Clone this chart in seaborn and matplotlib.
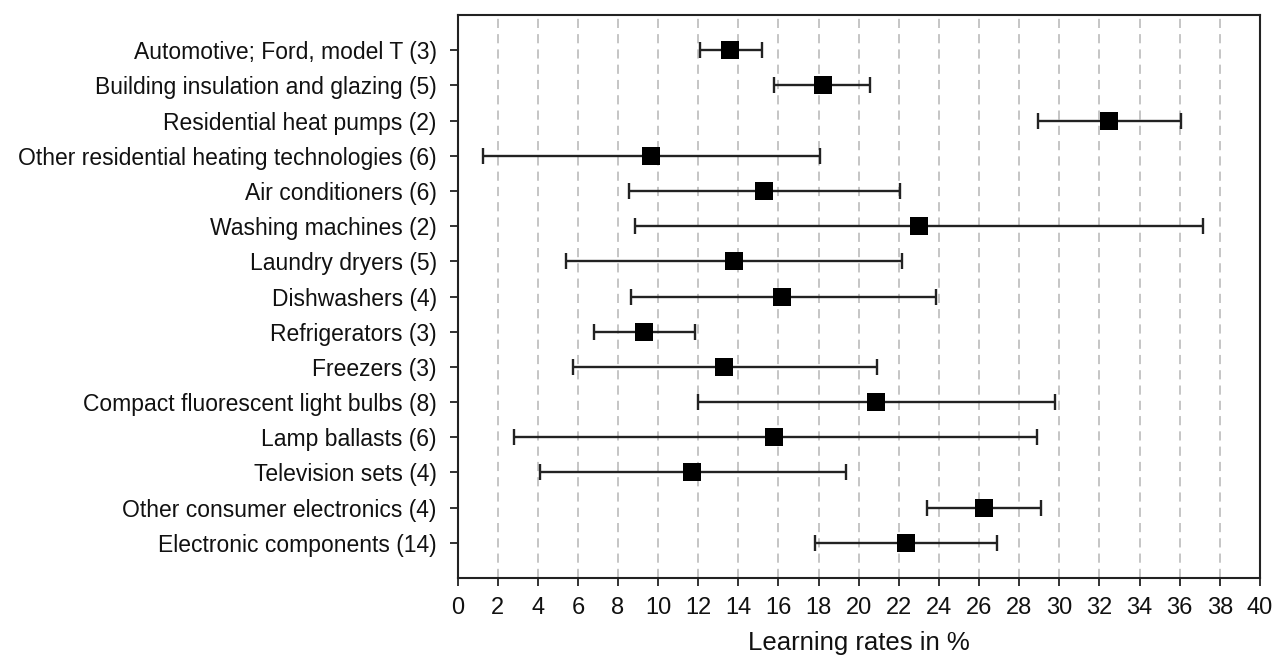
import matplotlib
matplotlib.use("Agg")
import matplotlib.pyplot as plt
import seaborn as sns
import pandas as pd

categories = [
    "Automotive; Ford, model T (3)",
    "Building insulation and glazing (5)",
    "Residential heat pumps (2)",
    "Other residential heating technologies (6)",
    "Air conditioners (6)",
    "Washing machines (2)",
    "Laundry dryers (5)",
    "Dishwashers (4)",
    "Refrigerators (3)",
    "Freezers (3)",
    "Compact fluorescent light bulbs (8)",
    "Lamp ballasts (6)",
    "Television sets (4)",
    "Other consumer electronics (4)",
    "Electronic components (14)",
]
mean_rate = [13.6, 18.2, 32.5, 9.65, 15.3, 23.0, 13.8, 16.2, 9.3, 13.3, 20.85, 15.8, 11.7, 26.25, 22.35]
low_rate = [12.1, 15.8, 28.95, 1.25, 8.55, 8.85, 5.4, 8.65, 6.8, 5.75, 12.0, 2.8, 4.1, 23.4, 17.8]
high_rate = [15.2, 20.55, 36.05, 18.05, 22.05, 37.15, 22.15, 23.85, 11.85, 20.9, 29.8, 28.9, 19.35, 29.1, 26.9]
x_ticks = list(range(0, 41, 2))

df = pd.DataFrame({"category": categories, "rate": mean_rate,
                   "low": low_rate, "high": high_rate})

sns.set_theme(style="white")
plt.rcParams["font.family"] = ["Liberation Sans", "DejaVu Sans"]

fig = plt.figure(figsize=(12.83, 6.59), dpi=100)
ax = fig.add_axes([0.3566, 0.1229, 0.6254, 0.8543])

ypos = list(range(len(categories)))
ax.errorbar(df["rate"], ypos,
            xerr=[df["rate"] - df["low"], df["high"] - df["rate"]],
            fmt="none", ecolor="#222222", elinewidth=1.7, capsize=5.5,
            capthick=1.7, zorder=3)
sns.scatterplot(x=df["rate"], y=ypos, marker="s", s=155, color="black",
                edgecolor="black", linewidth=0, ax=ax, zorder=4, legend=False)

ax.set_xlim(0, 40)
ax.set_ylim(len(categories), -1)
ax.set_xticks(x_ticks)
ax.set_xticklabels([str(t) for t in x_ticks])
ax.set_yticks(ypos)
ax.set_yticklabels(categories)

for t in x_ticks[1:-1]:
    ax.axvline(t, color="#b5b5b5", linestyle=(0, (6, 4)), linewidth=1.1, zorder=1)

ax.set_xlabel("Learning rates in %", fontsize=18.5, color="#111111", labelpad=8)
ax.set_ylabel("")
ax.tick_params(axis="both", which="both", direction="out", length=6, width=1.3,
               color="#222222", labelsize=16.5, labelcolor="#111111",
               left=True, bottom=True)
ax.tick_params(axis="y", pad=9)
ax.tick_params(axis="x", pad=8, labelsize=17)
for sp in ax.spines.values():
    sp.set_visible(True)
    sp.set_color("#222222")
    sp.set_linewidth(1.5)

fig.savefig("out.png", dpi=100, facecolor="white")
